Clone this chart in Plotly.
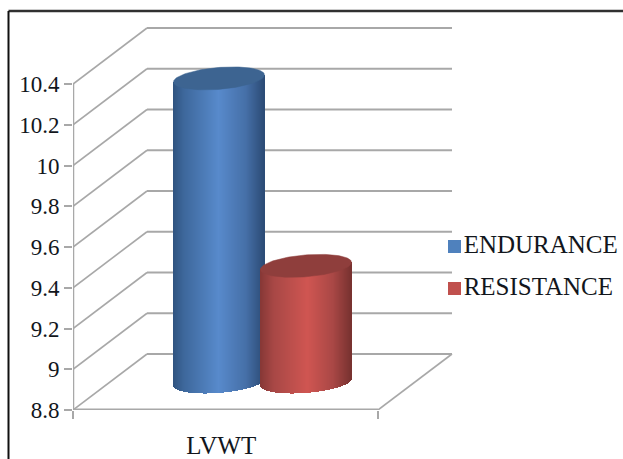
import numpy as np
import plotly.graph_objects as go

# Chart data
categories = ["LVWT"]
series_names = ["ENDURANCE", "RESISTANCE"]
endurance = [10.29]
resistance = [9.37]
y_ticks = [8.8, 9.0, 9.2, 9.4, 9.6, 9.8, 10.0, 10.2, 10.4]
y_tick_labels = ["8.8", "9", "9.2", "9.4", "9.6", "9.8", "10", "10.2", "10.4"]

# Canvas and plot box, in pixels
W, H = 623, 459
AX_LEFT, AX_BOTTOM = 73, 410
FRONT_W = 305                        # width of the front edge of the floor
UNIT_H = (410 - 84) / (y_ticks[-1] - y_ticks[0])   # pixels per y unit
DEPTH_X = 74 / FRONT_W               # oblique offset of the back wall, x units
DEPTH_Y = 56 / UNIT_H                # same offset in y units
X_MAX = 387 / FRONT_W

GRID = "#a8a8a8"
TEXT = "#12161c"
FONT = "Liberation Serif"

# Cylinder profile (pixels turned into axis units below)
RADIUS_PX = 45.5
SHEAR_PX = 14.0
MINOR_PX = 11.5
MAJOR_PX = np.sqrt(RADIUS_PX**2 - SHEAR_PX**2)
GROUP_OFFSET = 43.5 / FRONT_W

SHADES = {
    "ENDURANCE": dict(stops=[(0, (48, 84, 128)), (0.12, (62, 104, 156)), (0.5, (88, 138, 204)),
                             (0.8, (70, 112, 168)), (1, (44, 76, 118))], top="#3d6491", key="#4f81bd"),
    "RESISTANCE": dict(stops=[(0, (134, 56, 54)), (0.15, (168, 72, 70)), (0.52, (208, 86, 82)),
                              (0.8, (170, 72, 70)), (1, (120, 50, 48))], top="#8f3e3c", key="#c0504d"),
}


def shade(stops, f):
    ts = [s[0] for s in stops]
    return "rgb(%d,%d,%d)" % tuple(np.interp(f, ts, [s[1][i] for s in stops]) for i in range(3))


def ellipse(cx, cy, n=120):
    """Outline of a cylinder cap in the oblique projection, in axis units."""
    t = np.linspace(0, 2 * np.pi, n)
    xs = cx + (MAJOR_PX * np.cos(t) + SHEAR_PX * np.sin(t)) / FRONT_W
    ys = cy + MINOR_PX * np.sin(t) / UNIT_H
    return xs, ys


def cap_lower_edge(px):
    """Lower boundary of a cap at horizontal offsets px from its centre, in y units."""
    a = SHEAR_PX**2 / MAJOR_PX**2 + 1
    b = -2 * px * SHEAR_PX / MAJOR_PX**2
    c = px**2 / MAJOR_PX**2 - 1
    u = (-b - np.sqrt(np.maximum(b**2 - 4 * a * c, 0))) / (2 * a)
    return MINOR_PX * u / UNIT_H


def cylinder_traces(name, value, cx, depth_shift):
    """Cylinder standing at mid depth: base and top are both lifted by depth_shift."""
    n = 91
    step = 2 * RADIUS_PX / n
    px = -RADIUS_PX + step * (np.arange(n) + 0.5)
    # the chord through the cap centre stays hidden under the top cap
    tilt = (px / RADIUS_PX) * (MINOR_PX * SHEAR_PX / RADIUS_PX) / UNIT_H
    bases = y_ticks[0] + depth_shift + cap_lower_edge(px)
    tops = value + depth_shift + tilt
    colors = [shade(SHADES[name]["stops"], (p + RADIUS_PX) / (2 * RADIUS_PX)) for p in px]
    body = go.Bar(
        x=cx + px / FRONT_W, y=tops - bases, base=bases,
        width=(step + 0.3) / FRONT_W,
        marker=dict(color=colors, line=dict(width=0)),
        cliponaxis=False, showlegend=False, hoverinfo="skip",
    )
    tx, ty = ellipse(cx, value + depth_shift)
    cap = go.Scatter(
        x=tx, y=ty, mode="lines", fill="toself", fillcolor=SHADES[name]["top"],
        line=dict(color=SHADES[name]["top"], width=0.5), cliponaxis=False,
        showlegend=False, hoverinfo="skip",
    )
    return [body, cap]


fig = go.Figure()

# Walls and floor go under the cylinders as shapes
shapes = []
line_style = dict(color=GRID, width=1.6)
for v in y_ticks:
    shapes.append(dict(type="line", xref="x", yref="y", layer="below",
                       x0=0, y0=v, x1=DEPTH_X, y1=v + DEPTH_Y, line=line_style))
    shapes.append(dict(type="line", xref="x", yref="y", layer="below",
                       x0=DEPTH_X, y0=v + DEPTH_Y, x1=1 + DEPTH_X, y1=v + DEPTH_Y,
                       line=dict(color=GRID, width=2)))
shapes.append(dict(type="line", xref="x", yref="y", layer="below",
                   x0=1, y0=y_ticks[0], x1=1 + DEPTH_X, y1=y_ticks[0] + DEPTH_Y, line=line_style))

# Outer frame: top and left rules only
shapes.append(dict(type="line", xref="paper", yref="paper", x0=8.5 / W, x1=1,
                   y0=1 - 11 / H, y1=1 - 11 / H, line=dict(color="#303030", width=2.5)))
shapes.append(dict(type="line", xref="paper", yref="paper", x0=8.5 / W, x1=8.5 / W,
                   y0=0, y1=1 - 11 / H, line=dict(color="#101010", width=2)))

# Front floor edge and value axis spine
fig.add_trace(go.Scatter(x=[0, 1], y=[y_ticks[0], y_ticks[0]], mode="lines",
                         line=dict(color=GRID, width=3), cliponaxis=False,
                         showlegend=False, hoverinfo="skip"))
fig.add_trace(go.Scatter(x=[0, 0], y=[y_ticks[0], y_ticks[-1]], mode="lines",
                         line=dict(color=GRID, width=2.5), cliponaxis=False,
                         showlegend=False, hoverinfo="skip"))

centre = 0.5
for name, vals, sign in ((series_names[0], endurance, -1), (series_names[1], resistance, 1)):
    for tr in cylinder_traces(name, vals[0], centre + sign * GROUP_OFFSET + DEPTH_X / 2, DEPTH_Y / 2):
        fig.add_trace(tr)

# Series key beside the plot
KEY_X = (454.5 - AX_LEFT) / FRONT_W
for name, row_px in zip(series_names, (246.5, 288.5)):
    fig.add_trace(go.Scatter(
        x=[KEY_X], y=[y_ticks[0] + (AX_BOTTOM - row_px) / UNIT_H],
        mode="markers+text", text=[name], textposition="middle right",
        textfont=dict(family=FONT, size=25, color=TEXT),
        marker=dict(symbol="square", size=13, color=SHADES[name]["key"]),
        cliponaxis=False, name=name, showlegend=False, hoverinfo="name",
    ))

fig.update_layout(
    width=W, height=H, margin=dict(l=0, r=0, t=0, b=0, autoexpand=False),
    paper_bgcolor="white", plot_bgcolor="white",
    showlegend=False, barmode="overlay", bargap=0,
    shapes=shapes,
    font=dict(family=FONT, size=23, color=TEXT),
    xaxis=dict(
        domain=[AX_LEFT / W, (AX_LEFT + 387) / W], range=[0, X_MAX],
        tickmode="array", tickvals=[0.486], ticktext=categories,
        tickfont=dict(family=FONT, size=25, color=TEXT),
        ticks="", showgrid=False, zeroline=False, showline=False,
        ticklabelstandoff=18, automargin=False,
        minor=dict(tickmode="array", tickvals=[0, 1], ticks="outside", ticklen=8,
                   tickwidth=2, tickcolor=GRID, showgrid=False),
        fixedrange=True,
    ),
    yaxis=dict(
        domain=[(H - AX_BOTTOM) / H, (H - 20) / H],
        range=[y_ticks[0], y_ticks[0] + 390 / UNIT_H],
        tickmode="array", tickvals=y_ticks, ticktext=y_tick_labels,
        ticks="outside", ticklen=8, tickwidth=2, tickcolor=GRID, automargin=False,
        showgrid=False, zeroline=False, showline=False, fixedrange=True,
    ),
)

fig.write_html("out.html", config=dict(displayModeBar=False))
